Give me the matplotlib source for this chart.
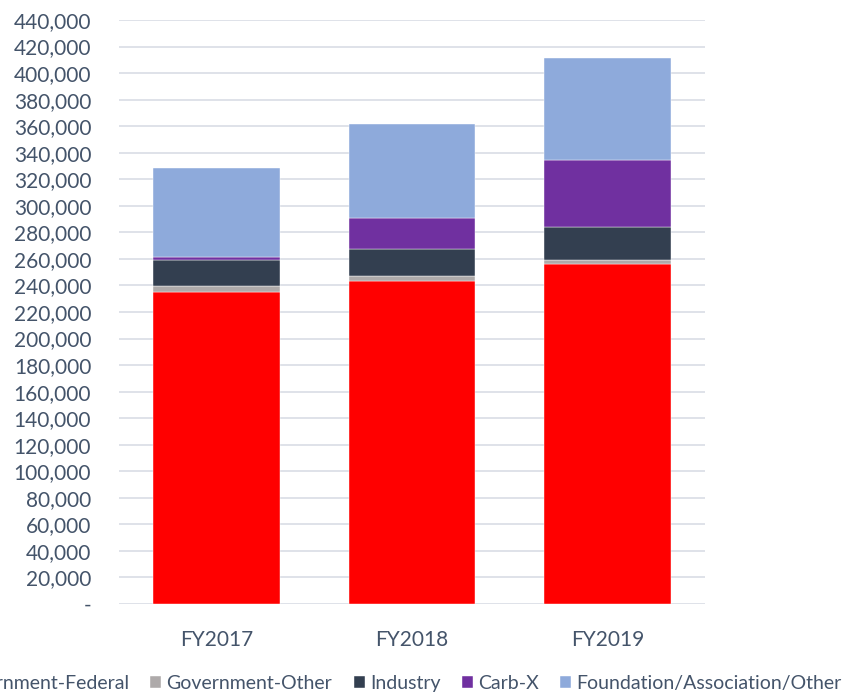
import matplotlib.pyplot as plt
from matplotlib.ticker import FuncFormatter, MultipleLocator
import numpy as np

plt.rcParams['font.family'] = ['Lato', 'DejaVu Sans']

years = ['FY2017', 'FY2018', 'FY2019']
gov_federal = [235100, 243400, 256000]
gov_other = [4800, 3600, 3200]
industry = [19100, 20300, 24700]
carb_x = [2500, 23600, 50700]
foundation = [67300, 70800, 76900]

series = [
    ('Government-Federal', gov_federal, '#FF0000'),
    ('Government-Other', gov_other, '#AEAAAA'),
    ('Industry', industry, '#333F50'),
    ('Carb-X', carb_x, '#7030A0'),
    ('Foundation/Association/Other', foundation, '#8EAADB'),
]

text_color = '#44546A'

fig = plt.figure(figsize=(8.43, 6.92), dpi=100)
ax = fig.add_axes([119 / 843, 1 - 604 / 692, (705 - 119) / 843, (604 - 20) / 692])

x = np.arange(len(years))
bottom = np.zeros(len(years))
for name, vals, color in series:
    ax.bar(x, vals, 0.65, bottom=bottom, color=color, label=name,
           edgecolor='white', linewidth=0.3, zorder=3)
    bottom += np.array(vals)

ax.set_xlim(-0.5, 2.5)
ax.set_ylim(0, 440000)
ax.yaxis.set_major_locator(MultipleLocator(20000))
ax.yaxis.set_major_formatter(FuncFormatter(lambda v, p: '-' if v == 0 else f'{int(v):,}'))
ax.set_xticks(x)
ax.set_xticklabels(years)
ax.grid(axis='y', color='#D9DDE5', linewidth=1.2, zorder=0)
for s in ax.spines.values():
    s.set_visible(False)
ax.tick_params(axis='both', length=0, labelsize=15, colors=text_color)
ax.tick_params(axis='y', pad=20)
ax.tick_params(axis='x', pad=19)

fig.legend(loc='center right', bbox_to_anchor=(0.998, 0.013), ncol=5, frameon=False,
           fontsize=14, labelcolor=text_color, handlelength=0.57, handleheight=0.57,
           handletextpad=0.26, columnspacing=1.1, borderpad=0, borderaxespad=0)

fig.savefig('out.png', dpi=100)
